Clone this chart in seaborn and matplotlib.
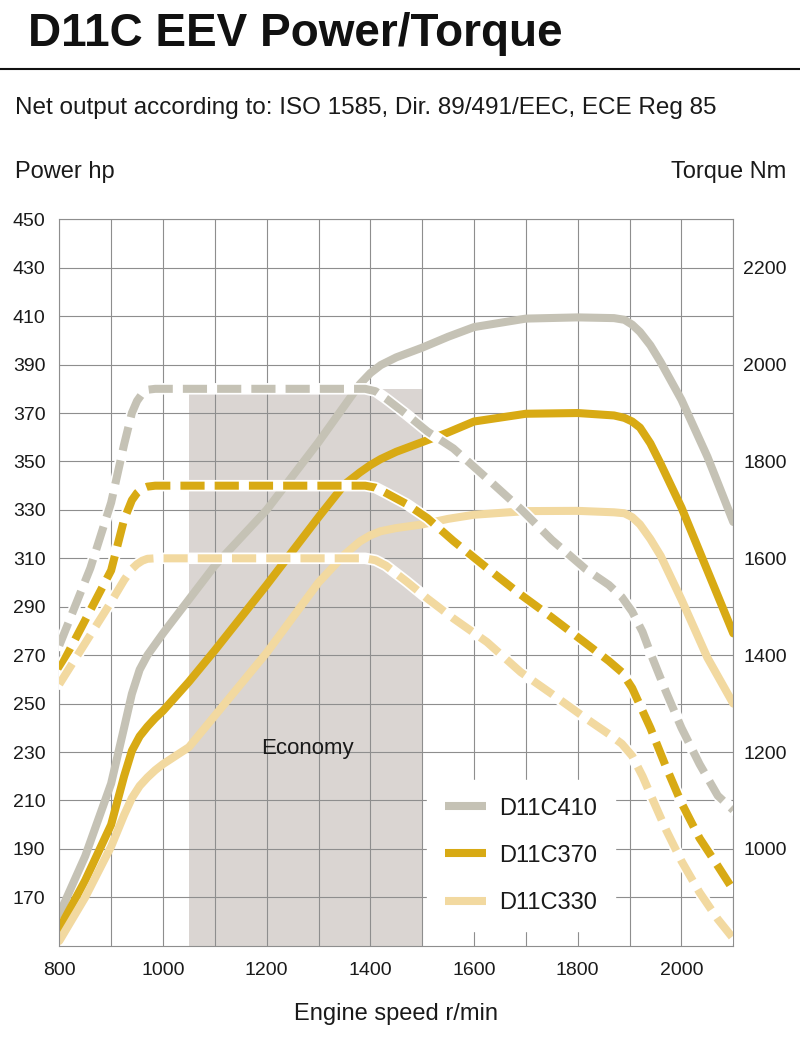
import matplotlib
matplotlib.use("Agg")
import matplotlib.pyplot as plt
from matplotlib.lines import Line2D
import pandas as pd
import seaborn as sns

sns.set_style("white")
plt.rcParams['font.family'] = ['Liberation Sans', 'DejaVu Sans']

# Engine speed grid for the power curves (r/min), power in hp
rpm_power = [800, 850, 900, 925, 940, 955, 970, 985, 1000, 1050, 1100, 1200, 1300, 1350,
             1380, 1400, 1420, 1450, 1500, 1550, 1600, 1700, 1800, 1870, 1890, 1905,
             1920, 1940, 1960, 2000, 2050, 2100]
power_410 = [163, 187, 217, 240, 254, 264, 270, 274.5, 279, 293, 307, 330, 358, 373,
             382, 386.5, 389.8, 393, 397, 401.5, 405.5, 409, 409.5, 409.2, 408.5, 406.5,
             403.5, 398, 391, 375.5, 352, 325]
power_370 = [157, 177, 200, 220, 230.5, 236.5, 240.5, 244, 247, 259, 272, 299, 327, 340.5,
             345.5, 348.5, 351, 354, 358, 362, 366.5, 369.7, 370, 369, 368, 366.5,
             364, 357.5, 349, 331, 305, 279]
power_330 = [152, 170, 191, 204, 211, 216, 219.5, 222.5, 225, 232, 245, 271, 300, 311.5,
             317, 319.5, 321.2, 322.5, 324, 326.3, 328, 329.5, 329.6, 329, 328.6, 327,
             324, 318, 311, 293, 269, 250]

# Engine speed grid for the torque curves (r/min), torque in Nm
rpm_torque = [800, 860, 900, 925, 940, 950, 960, 970, 985, 1000, 1390, 1410, 1430, 1470,
              1510, 1560, 1625, 1690, 1750, 1815, 1860, 1885, 1905, 1925, 1940, 1970,
              2000, 2035, 2070, 2100]
torque_410 = [1420, 1580, 1715, 1835, 1900, 1925, 1940, 1948, 1950, 1950, 1950, 1945, 1930, 1897,
              1862, 1827, 1765, 1702, 1638, 1578, 1545, 1520, 1490, 1448, 1405, 1325,
              1250, 1175, 1110, 1080]
torque_370 = [1370, 1493, 1575, 1680, 1720, 1735, 1744, 1748, 1750, 1750, 1750, 1746, 1735, 1712,
              1683, 1636, 1580, 1525, 1478, 1425, 1388, 1365, 1332, 1285, 1250, 1170,
              1095, 1022, 965, 915]
torque_330 = [1340, 1442, 1510, 1555, 1578, 1588, 1595, 1599, 1600, 1600, 1600, 1596, 1585, 1552,
              1517, 1476, 1427, 1365, 1320, 1270, 1237, 1217, 1192, 1150, 1113, 1040,
              975, 910, 855, 815]

models = ["D11C410", "D11C370", "D11C330"]
colors = {"D11C410": "#c5c2b5", "D11C370": "#d8aa14", "D11C330": "#f2d9a0"}

economy_rpm = [1050, 1500]
economy_top = 380

power_df = pd.concat([
    pd.DataFrame({"rpm": rpm_power, "hp": p, "model": m})
    for m, p in zip(models, [power_410, power_370, power_330])
])
torque_df = pd.concat([
    pd.DataFrame({"rpm": rpm_torque, "Nm": t, "model": m})
    for m, t in zip(models, [torque_410, torque_370, torque_330])
])

fig = plt.figure(figsize=(8, 10.58), dpi=100)
ax = fig.add_axes([0.0741, 0.1061, 0.8425, 0.6866])
grid_col = "#8e8e8e"
txt_col = "#1a1a1a"

# Economy band
ax.fill_between(economy_rpm, 150, economy_top, color="#dad5d2", lw=0, zorder=0.2)
ax.text(1278, 231.5, "Economy", ha="center", va="center", fontsize=16, color=txt_col)

lw = 5.8
sns.lineplot(data=power_df, x="rpm", y="hp", hue="model", palette=colors,
             lw=lw, legend=False, ax=ax, sort=False, solid_joinstyle="round")

ax.set_xlim(800, 2100)
ax.set_ylim(150, 450)
ax.set_xticks(range(800, 2101, 100))
ax.set_xticklabels([str(v) if v % 200 == 0 else "" for v in range(800, 2101, 100)])
ax.set_yticks(range(170, 451, 20))
ax.set_axisbelow(True)
ax.grid(True, color=grid_col, lw=0.8)
ax.tick_params(axis="y", length=0, labelsize=14, pad=10, colors=txt_col)
ax.tick_params(axis="x", length=0, labelsize=14, pad=12, colors=txt_col)
ax.set_xlabel("Engine speed r/min", fontsize=17, labelpad=17, color=txt_col)
ax.set_ylabel("")
for s in ax.spines.values():
    s.set_color(grid_col)
    s.set_linewidth(0.8)

# Torque on twin axis
ax2 = ax.twinx()
for m in models:
    sub = torque_df[torque_df["model"] == m]
    sns.lineplot(data=sub, x="rpm", y="Nm", color="white", lw=lw + 2.5,
                 ax=ax2, sort=False, legend=False, solid_joinstyle="round")
    sns.lineplot(data=sub, x="rpm", y="Nm", color=colors[m], lw=lw,
                 linestyle=(0, (3.0, 1.25)), ax=ax2, sort=False, legend=False,
                 dash_joinstyle="round")
ax2.set_ylim(800, 2300)
ax2.set_yticks(range(1000, 2201, 200))
ax2.tick_params(axis="y", length=0, labelsize=14, pad=7, colors=txt_col)
ax2.set_ylabel("")
ax2.set_xlim(800, 2100)
for s in ax2.spines.values():
    s.set_visible(False)

handles = [Line2D([], [], color=colors[m], lw=lw, solid_capstyle="butt") for m in models]
leg = ax2.legend(handles, models, loc="upper left",
                 bbox_to_anchor=(427 / 800, 1 - 780 / 1058), bbox_transform=fig.transFigure,
                 fontsize=17, frameon=True, fancybox=False, framealpha=1,
                 facecolor="white", edgecolor="white", handlelength=1.75,
                 handletextpad=0.55, labelspacing=1.06, borderpad=0.75, borderaxespad=0)
leg.set_zorder(10)
for t in leg.get_texts():
    t.set_color(txt_col)

# Header texts
fig.text(28 / 800, 1 - 46 / 1058, "D11C EEV Power/Torque", fontsize=33,
         fontweight="bold", va="baseline", ha="left", color="#111111")
fig.add_artist(Line2D([0, 1], [1 - 68.5 / 1058] * 2, transform=fig.transFigure,
                      color="#111111", lw=1.5))
fig.text(15 / 800, 1 - 114 / 1058,
         "Net output according to: ISO 1585, Dir. 89/491/EEC, ECE Reg 85",
         fontsize=17.5, va="baseline", ha="left", color=txt_col)
fig.text(15 / 800, 1 - 178 / 1058, "Power hp", fontsize=17, va="baseline",
         ha="left", color=txt_col)
fig.text(786 / 800, 1 - 178 / 1058, "Torque Nm", fontsize=17, va="baseline",
         ha="right", color=txt_col)

fig.savefig("out.png", dpi=100, facecolor="white")
